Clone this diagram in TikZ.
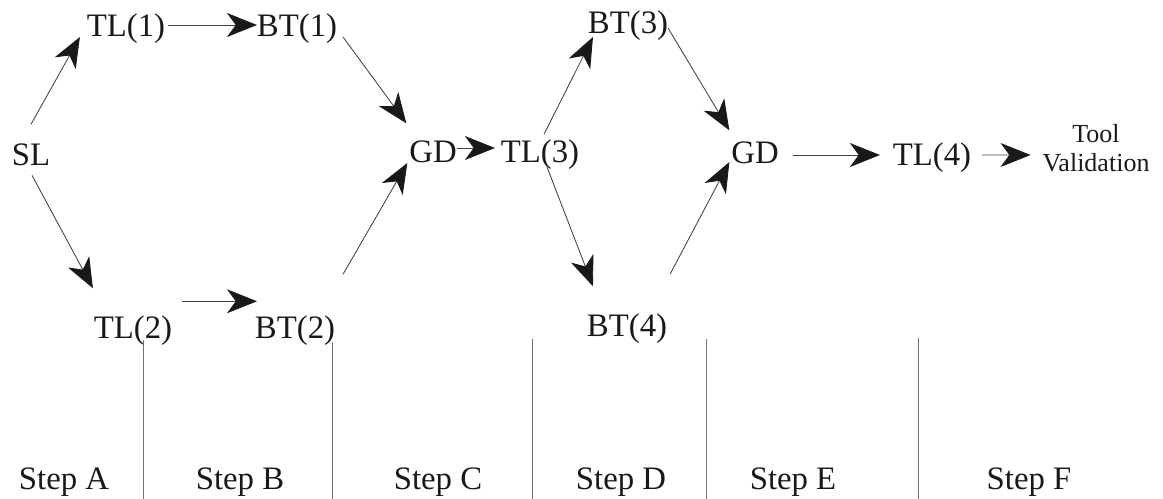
\documentclass[tikz,border=0pt]{standalone}
\usepackage{fontspec}
\setmainfont{Liberation Serif}
\usetikzlibrary{arrows.meta}

\begin{document}
\begin{tikzpicture}[x=0.025cm, y=-0.025cm,
  lbl/.style={inner sep=0pt, outer sep=0pt, anchor=base, text=black!90,
    font=\fontsize{23.3}{28}\selectfont},
  arr/.style={draw=black!75, line width=0.6pt,
    -{Stealth[length=7.5mm, width=6mm, inset=2.2mm, color=black!90]}},
  sep/.style={draw=black!55, line width=0.6pt}]
  \useasboundingbox (0,0) rectangle (1163,499);

  % Tool life and bending test nodes
  \node[lbl] (SL)  at (31,165)  {SL};
  \node[lbl] (TL1) at (126,37)  {TL(1)};
  \node[lbl] (BT1) at (297,37)  {BT(1)};
  \node[lbl] (TL2) at (133,338) {TL(2)};
  \node[lbl] (BT2) at (295,338) {BT(2)};
  \node[lbl] (GD1) at (433,162) {GD};
  \node[lbl] (TL3) at (540,162) {TL(3)};
  \node[lbl] (BT3) at (628,34)  {BT(3)};
  \node[lbl] (BT4) at (627,336) {BT(4)};
  \node[lbl] (GD2) at (755,163) {GD};
  \node[lbl] (TL4) at (932,165) {TL(4)};
  \node[lbl, anchor=center, align=center, font=\fontsize{18.5}{20.6}\selectfont]
    (tool) at (1096,148.5) {Tool\\Validation};

  % Arrows
  \draw[arr] ([shift={(0,-19)}]SL.north) -- ([shift={(-7,0)}]TL1.base west);
  \draw[arr] ([shift={(3,-12)}]TL1.base east) -- ([shift={(0,-12)}]BT1.base west);
  \draw[arr] ([shift={(6,0)}]BT1.base east) -- ([shift={(-3,-17)}]GD1.north west);
  \draw[arr] ([shift={(1,10)}]SL.south) -- ([shift={(-1,-27)}]TL2.north west);
  \draw[arr] ([shift={(10,-14)}]TL2.north east) -- ([shift={(2,-14)}]BT2.north west);
  \draw[arr] ([shift={(8,-41)}]BT2.north east) -- ([shift={(-2,1)}]GD1.base west);
  \draw[arr] ([shift={(0,-14)}]GD1.base east) -- ([shift={(-6,-14)}]TL3.base west);
  \draw[arr] ([shift={(4,-5)}]TL3.north) -- ([shift={(5,3)}]BT3.base west);
  \draw[arr] ([shift={(7,5)}]TL3.base) -- ([shift={(6,-27)}]BT4.north west);
  \draw[arr] ([shift={(0,-6)}]BT3.base east) -- ([shift={(-2,-11)}]GD2.north west);
  \draw[arr] ([shift={(3,-39)}]BT4.north east) -- ([shift={(-2,-1)}]GD2.base west);
  \draw[arr] ([shift={(14,-8)}]GD2.base east) -- ([shift={(-13,-10)}]TL4.base west);
  \draw[arr] ([shift={(11,-10)}]TL4.base east) -- ([shift={(-12,6.5)}]tool.west);

  % Step separators
  \foreach \x/\y in {143/340, 332/342, 532/339, 706/339, 918/338}
    \draw[sep] (\x,\y) -- (\x,499);

  % Step labels
  \foreach \x/\s in {64/A, 240/B, 438/C, 621/D, 793/E, 1029/F}
    \node[lbl] (step\s) at (\x,489) {Step \s};

\end{tikzpicture}
\end{document}
